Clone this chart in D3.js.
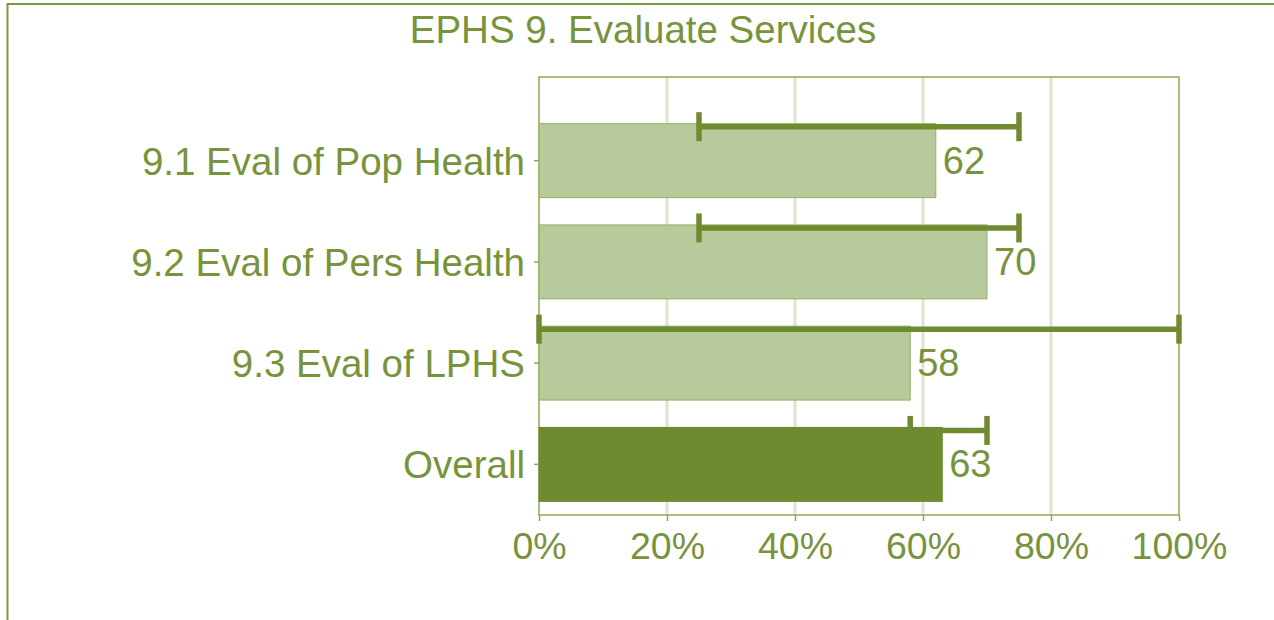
<!DOCTYPE html>
<html>
<head>
<meta charset="utf-8">
<script src="https://cdn.jsdelivr.net/npm/d3@7"></script>
<style>
  body { margin: 0; background: #fff; }
  svg { display: block; font-family: "Liberation Sans", Arial, sans-serif; }
</style>
</head>
<body>
<svg id="chart"></svg>
<script>
    // data
    var categories = ["9.1 Eval of Pop Health", "9.2 Eval of Pers Health", "9.3 Eval of LPHS", "Overall"];
    var scores = [62, 70, 58, 63];
    var rangeLow = [25, 25, 0, 58];
    var rangeHigh = [75, 75, 100, 70];
    var xTicks = [0, 20, 40, 60, 80, 100];

    var W = 1274, H = 620;
    var textColor = "#77933c";
    var dark = "#6e8b2f";
    var fontFam = "Liberation Sans, Arial, sans-serif";

    var svg = d3.select("#chart")
        .attr("width", W)
        .attr("height", H);

    // outer frame
    svg.append("rect")
        .attr("x", 7.5).attr("y", 4)
        .attr("width", W + 20).attr("height", H + 20)
        .attr("fill", "none")
        .attr("stroke", "#7a9a3e")
        .attr("stroke-width", 2);

    svg.append("text")
        .attr("x", 643).attr("y", 43)
        .attr("text-anchor", "middle")
        .attr("font-size", 38.5)
        .attr("fill", textColor)
        .text("EPHS 9. Evaluate Services");

    var plotTop = 77, plotBottom = 515;

    var x = d3.scaleLinear().domain([0, 100]).range([539, 1179]);
    var y = d3.scaleBand().domain(categories).range([110, 515])
        .paddingInner(0.27).paddingOuter(0.135);

    // gridlines
    svg.append("g")
        .selectAll("line")
        .data(xTicks.filter(d => d > 0 && d < 100))
        .join("line")
        .attr("x1", d => x(d)).attr("x2", d => x(d))
        .attr("y1", plotTop).attr("y2", plotBottom)
        .attr("stroke", "#dfe3cf")
        .attr("stroke-width", 3);

    // plot frame
    svg.append("rect")
        .attr("x", x(0)).attr("y", plotTop)
        .attr("width", x(100) - x(0)).attr("height", plotBottom - plotTop)
        .attr("fill", "none")
        .attr("stroke", "#8aab55")
        .attr("stroke-width", 1.5);

    // bars
    svg.append("g")
        .selectAll("rect")
        .data(categories)
        .join("rect")
        .attr("x", x(0))
        .attr("y", d => y(d))
        .attr("width", (d, i) => x(scores[i]) - x(0))
        .attr("height", y.bandwidth())
        .attr("fill", (d, i) => i == 3 ? dark : "#b8c99b")
        .attr("stroke", (d, i) => i == 3 ? dark : "#93b060")
        .attr("stroke-width", 1);

    // error bars
    var err = svg.append("g")
        .attr("stroke", dark)
        .attr("stroke-width", 5.5);
    categories.forEach((c, i) => {
        var ey = y(c) + 3;
        err.append("line")
            .attr("x1", x(rangeLow[i])).attr("x2", x(rangeHigh[i]))
            .attr("y1", ey).attr("y2", ey);
        [rangeLow[i], rangeHigh[i]].forEach(v => {
            err.append("line")
                .attr("x1", x(v)).attr("x2", x(v))
                .attr("y1", ey - 14.5).attr("y2", ey + 14.5);
        });
    });
    // overall bar sits over its error line
    svg.append("rect")
        .attr("x", x(0))
        .attr("y", y(categories[3]))
        .attr("width", x(scores[3]) - x(0))
        .attr("height", y.bandwidth())
        .attr("fill", dark);

    // value labels
    svg.append("g")
        .selectAll("text")
        .data(categories)
        .join("text")
        .attr("x", (d, i) => x(scores[i]) + 7)
        .attr("y", d => y(d) + y.bandwidth() / 2 + 13)
        .attr("font-size", 38)
        .attr("fill", textColor)
        .text((d, i) => scores[i]);

    // axes
    var xAxis = svg.append("g")
        .attr("transform", "translate(0," + plotBottom + ")")
        .call(d3.axisBottom(x).tickValues(xTicks).tickFormat(d => d + "%").tickSize(6).tickPadding(11));
    xAxis.select(".domain").remove();
    xAxis.selectAll("line").attr("stroke", "#8aab55").attr("stroke-width", 1.5);
    xAxis.selectAll("text").attr("font-size", 37.5).attr("fill", textColor)
        .attr("dy", "0.71em").attr("font-family", fontFam);

    var yAxis = svg.append("g")
        .attr("transform", "translate(" + x(0) + ",0)")
        .call(d3.axisLeft(y).tickSize(5).tickPadding(9));
    yAxis.select(".domain").remove();
    yAxis.selectAll("line").attr("stroke", "#8aab55").attr("stroke-width", 1.5);
    yAxis.selectAll("text").attr("font-size", 38.5).attr("fill", textColor)
        .attr("font-family", fontFam).attr("dy", "0.36em");
</script>
</body>
</html>
